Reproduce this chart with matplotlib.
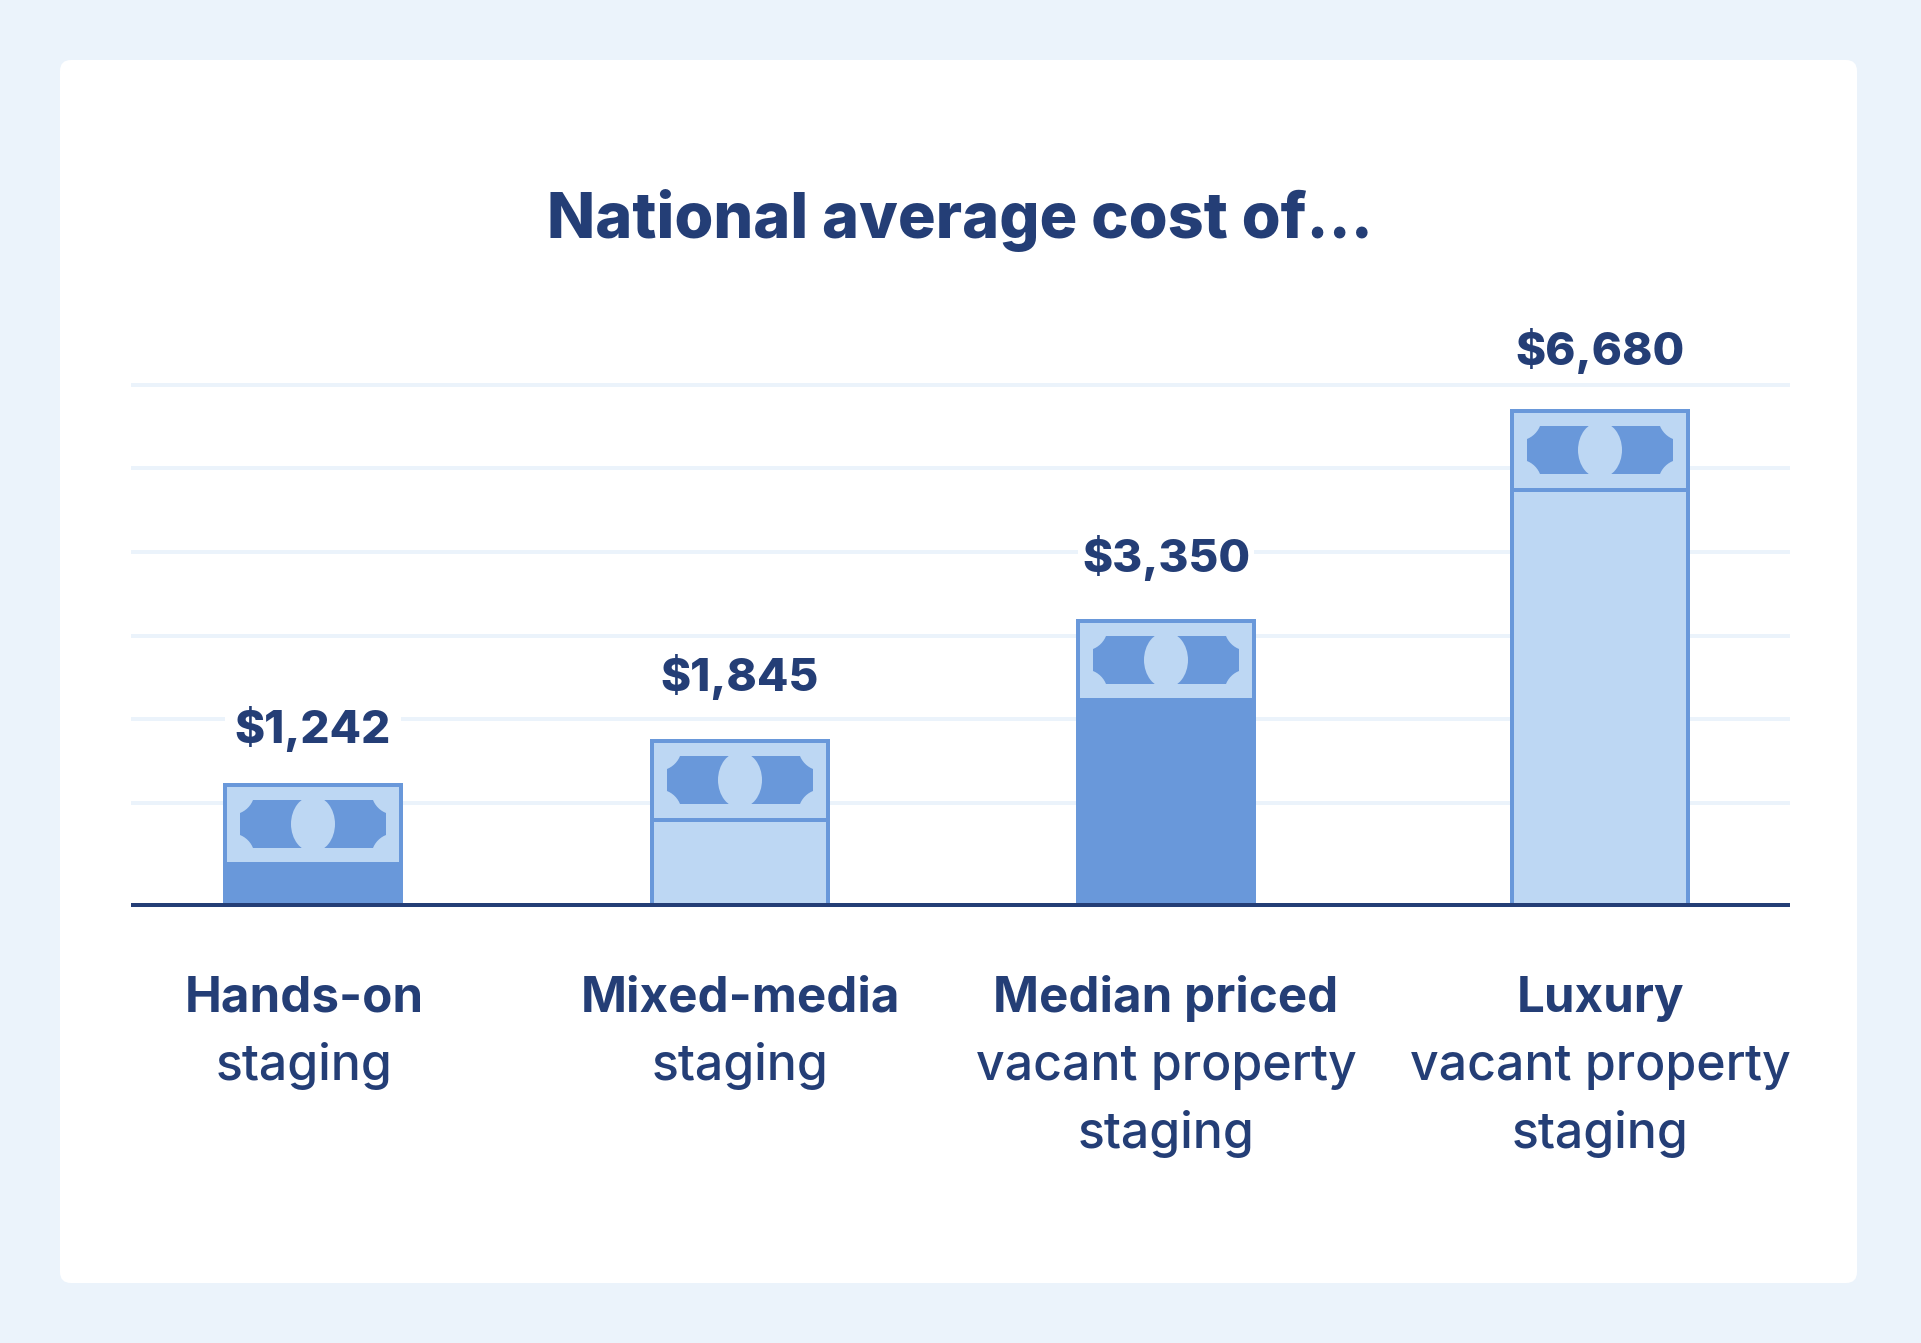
import numpy as np
import matplotlib
matplotlib.use('Agg')
import matplotlib.pyplot as plt
from matplotlib.patches import Rectangle, Ellipse, FancyBboxPatch, PathPatch
from matplotlib.path import Path

plt.rcParams['font.family'] = ['Inter', 'DejaVu Sans']

title = 'National average cost of...'
costs = [1242, 1845, 3350, 6680]
cost_labels = ['$1,242', '$1,845', '$3,350', '$6,680']
names_bold = ['Hands-on', 'Mixed-media', 'Median priced', 'Luxury']
names_rest = [['staging'], ['staging'], ['vacant property', 'staging'], ['vacant property', 'staging']]

# the picture's bars are not linear in dollars, so the y scale follows these knots
scale_costs = [0, 1242, 1845, 3350, 6680, 12000]
scale_heights = [0, 120, 164, 284, 494, 845]

# layout, in pixels of the output image
W, H = 1921, 1343
BASE = 905
bar_x = [313, 740, 1166, 1600]
bar_w = 180
dark_bar = [True, False, True, False]
label_y = [729, 677, 558, 351]
name_x = [304, 740, 1166, 1600]
grid_y = [385, 468, 552, 636, 719, 803]

BG = '#EBF3FB'
DARK = '#6998DA'
LIGHT = '#BDD7F3'
NAVY = '#243E76'
LW = 4 * 72 / 100  # 4 px in points


def to_height(v):
    return np.interp(v, scale_costs, scale_heights)


def to_cost(h):
    return np.interp(h, scale_heights, scale_costs)


def bill_path(x0, x1, y0, y1, r):
    # banknote band with shallow concave corners
    a = np.linspace(0, np.pi / 2, 8)
    t = a / (np.pi / 2)
    c = r * (0.5 * np.cos(a) + 0.5 * (1 - t))
    s = r * (0.5 * np.sin(a) + 0.5 * t)
    pts = []
    pts += list(zip(x0 + s, y0 + c))
    pts += list(zip(x1 - c, y0 + s))
    pts += list(zip(x1 - s, y1 - c))
    pts += list(zip(x0 + c, y1 - s))
    pts.append(pts[0])
    return Path(pts)


fig = plt.figure(figsize=(W / 100, H / 100), dpi=100, facecolor=BG)

# background: card, gridlines, text
ax_bg = fig.add_axes([0, 0, 1, 1])
ax_bg.set_xlim(0, W)
ax_bg.set_ylim(H, 0)
ax_bg.axis('off')
ax_bg.add_patch(FancyBboxPatch((60, 60), 1797, 1223, boxstyle='round,pad=0,rounding_size=11',
                               facecolor='white', edgecolor='none'))
for y in grid_y:
    ax_bg.plot([131, 1790], [y, y], color=BG, lw=LW, solid_capstyle='butt', zorder=1)

ax_bg.text(960, 221, title, ha='center', va='center', fontsize=45.3, fontweight='heavy', color=NAVY)

for i, x in enumerate(bar_x):
    # white gap in the gridlines behind the value
    ax_bg.add_patch(Rectangle((x - 88, label_y[i] - 25), 176, 50, facecolor='white', edgecolor='none', zorder=2))
    ax_bg.text(x, label_y[i], cost_labels[i], ha='center', va='center', fontsize=33,
               fontweight='heavy', color=NAVY, zorder=3)
    ax_bg.text(name_x[i], 999, names_bold[i], ha='center', va='center', fontsize=35.5,
               fontweight='bold', color=NAVY)
    for j, line in enumerate(names_rest[i]):
        ax_bg.text(name_x[i], 1066 + 68 * j, line, ha='center', va='center', fontsize=36,
                   fontweight='medium', color=NAVY)

# the bars, on the value scale
ax = fig.add_axes([0, (H - BASE) / H, 1, 845 / H])
ax.patch.set_visible(False)
ax.set_yscale('function', functions=(to_height, to_cost))
ax.set_xlim(0, W)
ax.set_ylim(0, 12000)
ax.axis('off')
ax.bar(bar_x, costs, width=bar_w - 4, linewidth=LW, edgecolor=DARK,
       color=[DARK if d else LIGHT for d in dark_bar], zorder=2)

# banknotes on top of the bars
ax_top = fig.add_axes([0, 0, 1, 1])
ax_top.patch.set_visible(False)
ax_top.set_xlim(0, W)
ax_top.set_ylim(H, 0)
ax_top.axis('off')
for i, x in enumerate(bar_x):
    top = BASE - to_height(costs[i]) - 2  # outer edge of the outline
    left = x - bar_w / 2
    ax_top.add_patch(Rectangle((left + 4, top + 4), bar_w - 8, 75, facecolor=LIGHT, edgecolor='none'))
    if not dark_bar[i]:
        ax_top.plot([left, left + bar_w], [top + 81, top + 81], color=DARK, lw=LW, solid_capstyle='butt')
    ax_top.add_patch(PathPatch(bill_path(x - 73, x + 73, top + 17, top + 65, 13),
                               facecolor=DARK, edgecolor='none'))
    ax_top.add_patch(Ellipse((x, top + 41), 44, 56, facecolor=LIGHT, edgecolor='none'))

ax_top.plot([131, 1790], [BASE, BASE], color=NAVY, lw=LW, solid_capstyle='butt')

fig.savefig('out.png', dpi=100, facecolor=BG)
